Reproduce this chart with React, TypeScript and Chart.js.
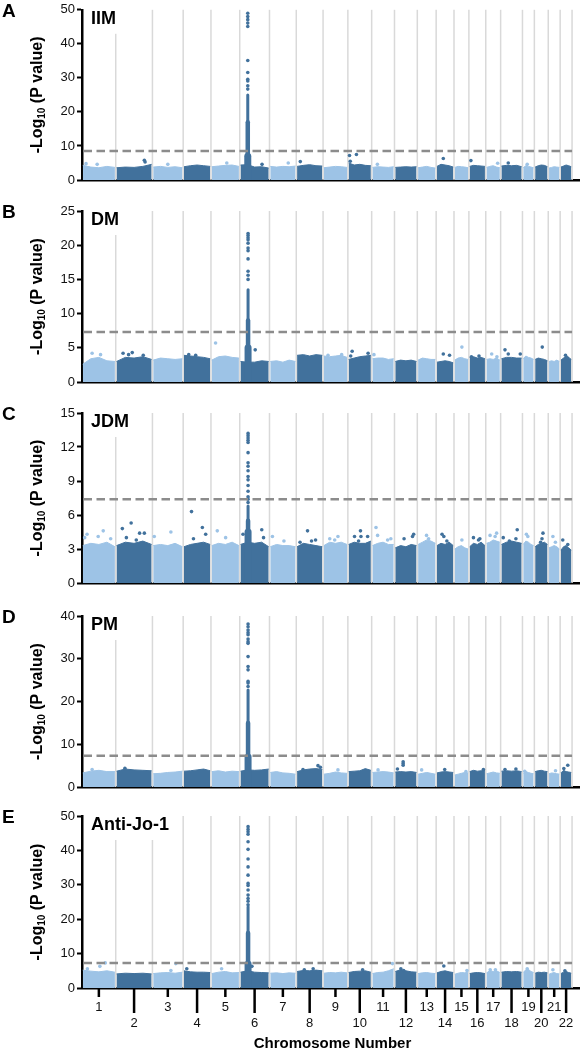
import React, { useEffect, useRef } from "react";
import { Chart, registerables } from "chart.js";

Chart.register(...registerables);

// ---------- shared axis data ----------
const chromosomes = ["1","2","3","4","5","6","7","8","9","10","11","12","13","14","15","16","17","18","19","20","21","22"];
// relative span of each chromosome on the genome axis (read from separators)
const chrSpan = [34, 37, 31, 28, 29, 30, 27, 27, 25, 24, 23, 23, 19, 18, 15, 17, 15, 22, 12, 14, 12, 12];

// ---------- Panel A: IIM ----------
const iimThreshold = 8.5;
const iimBand = [
  [4.3, 3.8, 3.6, 4.0, 3.7], [3.6, 3.8, 3.7, 4.0, 4.6], [3.8, 4.0, 3.7, 3.9, 3.6], [3.9, 4.2, 4.4, 4.2, 4.0],
  [3.9, 4.1, 4.3, 4.4, 4.0], [4.4, 4.5, 3.8, 3.9, 3.5], [4.0, 3.8, 4.0, 3.9, 4.1], [4.0, 4.3, 4.5, 4.2, 4.1],
  [3.6, 3.8, 4.0, 3.9, 3.7], [5.0, 4.4, 4.6, 4.3, 4.2], [3.7, 3.9, 3.8, 3.7, 3.9], [3.7, 3.8, 3.9, 3.8, 3.9],
  [3.6, 3.8, 4.0, 3.7, 3.5], [4.0, 4.6, 4.4, 4.2, 3.8], [3.7, 4.0, 3.9, 3.8, 3.6], [4.0, 4.3, 4.2, 4.1, 4.0],
  [3.7, 4.0, 4.2, 3.8, 3.6], [4.1, 4.3, 4.2, 4.3, 3.9], [3.6, 4.2, 4.0, 3.8, 3.6], [3.8, 4.2, 4.4, 4.3, 3.9],
  [3.5, 3.7, 3.9, 3.8, 3.7], [3.8, 4.1, 4.4, 4.2, 3.9],
];
const iimDots: [number, number, number][] = [
  [1, 0.12, 4.8], [1, 0.45, 4.6], [2, 0.78, 5.8], [2, 0.8, 5.3], [3, 0.5, 4.6], [5, 0.55, 5.0],
  [6, 0.75, 4.6], [7, 0.7, 5.0], [8, 0.15, 5.4], [10, 0.07, 7.2], [10, 0.36, 7.5], [10, 0.1, 5.5],
  [11, 0.25, 4.6], [14, 0.4, 6.3], [16, 0.12, 5.7], [17, 0.8, 4.9], [18, 0.35, 5.0], [19, 0.4, 4.6],
];
const iimPeakFrac = 0.27;
const iimColumn = [7, 17, 25];
const iimPeakDots = [26.7, 27.7, 29.1, 29.6, 31.6, 35.1, 45.1, 46.1, 47.1, 48.0, 49.0];

// ---------- Panel B: DM ----------
const dmThreshold = 7.3;
const dmBand = [
  [2.6, 3.4, 3.6, 3.1, 3.0], [3.0, 3.6, 3.5, 3.7, 3.3], [3.2, 3.5, 3.4, 3.3, 3.4], [3.9, 3.8, 3.7, 3.6, 3.4],
  [3.2, 3.7, 3.8, 3.6, 3.5], [3.0, 2.9, 2.9, 3.1, 3.0], [3.0, 3.1, 2.9, 3.2, 3.0], [3.9, 4.0, 3.8, 4.0, 3.9],
  [3.8, 3.7, 3.8, 3.9, 3.6], [3.3, 3.5, 3.7, 3.8, 3.9], [3.4, 3.5, 3.5, 3.3, 3.4], [3.0, 3.2, 3.1, 3.2, 3.0],
  [3.2, 3.5, 3.4, 3.3, 3.3], [2.9, 3.0, 3.1, 3.0, 2.8], [3.2, 3.5, 3.6, 3.4, 3.3], [3.6, 3.7, 3.5, 3.6, 3.4],
  [3.3, 3.4, 3.3, 3.5, 3.2], [3.4, 3.6, 3.6, 3.5, 3.5], [3.4, 3.8, 3.6, 3.5, 3.3], [3.3, 3.5, 3.4, 3.3, 3.1],
  [3.0, 3.1, 3.0, 3.2, 3.0], [3.2, 3.5, 3.8, 3.6, 3.3],
];
const dmDots: [number, number, number][] = [
  [1, 0.3, 4.2], [1, 0.55, 4.0], [2, 0.2, 4.2], [2, 0.35, 4.0], [2, 0.45, 4.3], [2, 0.75, 3.9],
  [4, 0.2, 4.0], [4, 0.45, 3.9], [5, 0.16, 5.7], [6, 0.52, 4.7], [9, 0.2, 3.9], [9, 0.75, 4.0],
  [10, 0.18, 4.5], [10, 0.12, 3.8], [10, 0.85, 4.2], [11, 0.1, 4.0], [14, 0.4, 4.1], [14, 0.75, 3.9],
  [15, 0.53, 5.1], [16, 0.15, 3.7], [16, 0.6, 3.8], [17, 0.4, 4.1], [17, 0.75, 3.7], [18, 0.2, 4.7],
  [18, 0.35, 4.1], [18, 0.9, 4.1], [20, 0.57, 5.1], [22, 0.45, 3.9], [22, 0.6, 3.5],
];
const dmPeakFrac = 0.28;
const dmColumn = [5, 9, 13.5];
const dmPeakDots = [15.0, 15.6, 16.2, 18.0, 19.2, 19.6, 20.3, 20.8, 21.1, 21.4, 21.7];

// ---------- Panel C: JDM ----------
const jdmThreshold = 7.4;
const jdmBand = [
  [3.3, 3.5, 3.4, 3.6, 3.2], [3.3, 3.6, 3.5, 3.7, 3.4], [3.3, 3.4, 3.3, 3.5, 3.2], [3.2, 3.4, 3.5, 3.6, 3.4],
  [3.3, 3.5, 3.4, 3.6, 3.3], [3.4, 3.6, 3.5, 3.6, 3.2], [3.2, 3.4, 3.3, 3.3, 3.2], [3.2, 3.5, 3.4, 3.3, 3.2],
  [3.3, 3.6, 3.5, 3.6, 3.4], [3.4, 3.6, 3.5, 3.5, 3.7], [3.3, 3.5, 3.6, 3.4, 3.4], [3.1, 3.3, 3.2, 3.4, 3.3],
  [3.4, 3.6, 3.8, 3.7, 3.5], [3.3, 3.5, 3.4, 3.6, 3.3], [3.0, 3.2, 3.3, 3.1, 3.0], [3.2, 3.5, 3.4, 3.6, 3.3],
  [3.5, 3.6, 3.8, 3.7, 3.6], [3.4, 3.6, 3.7, 3.6, 3.5], [3.4, 3.7, 3.6, 3.4, 3.3], [3.2, 3.4, 3.5, 3.6, 3.4],
  [3.1, 3.2, 3.3, 3.2, 3.0], [2.9, 3.2, 3.3, 3.1, 2.9],
];
const jdmDots: [number, number, number][] = [
  [1, 0.08, 4.0], [1, 0.15, 4.3], [1, 0.48, 4.1], [1, 0.63, 4.6], [1, 0.85, 3.9],
  [2, 0.18, 4.8], [2, 0.29, 4.0], [2, 0.42, 5.3], [2, 0.56, 3.8], [2, 0.65, 4.4], [2, 0.78, 4.4],
  [3, 0.06, 4.1], [3, 0.6, 4.5], [4, 0.3, 6.3], [4, 0.37, 3.9], [4, 0.69, 4.9], [4, 0.81, 4.3],
  [5, 0.22, 4.6], [5, 0.51, 4.0], [6, 0.11, 4.3], [6, 0.74, 4.7], [6, 0.8, 4.0], [7, 0.11, 4.1], [7, 0.54, 3.7],
  [8, 0.14, 3.6], [8, 0.42, 4.6], [8, 0.57, 3.7], [8, 0.72, 3.8], [9, 0.27, 3.9], [9, 0.47, 3.8], [9, 0.6, 4.1],
  [10, 0.28, 4.1], [10, 0.45, 3.7], [10, 0.53, 4.6], [10, 0.55, 4.1], [10, 0.83, 4.1],
  [11, 0.19, 4.9], [11, 0.26, 4.2], [11, 0.7, 3.8], [11, 0.84, 3.9], [12, 0.42, 3.9], [12, 0.79, 4.1], [12, 0.84, 4.3],
  [13, 0.49, 4.2], [13, 0.6, 3.9], [14, 0.33, 4.3], [14, 0.43, 4.1], [14, 0.6, 3.7], [15, 0.53, 3.8],
  [16, 0.27, 4.0], [16, 0.57, 3.8], [16, 0.65, 3.9], [17, 0.29, 4.2], [17, 0.63, 4.1], [17, 0.73, 4.4],
  [18, 0.12, 4.0], [18, 0.4, 3.7], [18, 0.7, 3.9], [18, 0.76, 4.7], [19, 0.33, 4.3], [19, 0.45, 4.1],
  [20, 0.45, 3.6], [20, 0.55, 3.9], [20, 0.62, 4.4], [21, 0.39, 4.1], [21, 0.6, 3.6], [22, 0.22, 3.8], [22, 0.64, 3.4],
];
const jdmPeakFrac = 0.28;
const jdmColumn = [4.5, 5.5, 6.8];
const jdmPeakDots = [7.1, 7.4, 7.6, 8.1, 8.6, 9.1, 9.4, 9.9, 10.3, 10.6, 11.5, 12.4, 12.6, 12.8, 13.0, 13.2];

// ---------- Panel D: PM ----------
const pmThreshold = 7.3;
const pmBand = [
  [3.3, 3.7, 3.9, 3.6, 3.6], [3.7, 4.2, 4.0, 3.9, 3.8], [3.1, 3.2, 3.4, 3.5, 3.7], [3.7, 3.8, 4.0, 4.2, 3.8],
  [3.6, 3.8, 3.5, 3.7, 3.6], [3.7, 4.0, 3.9, 4.0, 4.2], [3.4, 3.6, 3.3, 3.2, 3.0], [3.6, 4.0, 4.2, 4.3, 4.1],
  [3.0, 3.2, 3.5, 3.3, 3.2], [3.6, 3.7, 3.8, 4.3, 3.9], [3.4, 3.5, 3.6, 3.5, 3.3], [3.5, 3.6, 3.5, 3.6, 3.4],
  [3.0, 3.2, 3.4, 3.2, 3.0], [3.3, 3.5, 3.6, 3.5, 3.4], [2.8, 3.0, 3.2, 3.4, 3.3], [3.6, 3.9, 3.7, 3.8, 3.9],
  [3.1, 3.3, 3.5, 3.3, 3.2], [3.7, 3.8, 3.7, 3.8, 3.6], [3.2, 3.6, 3.4, 3.2, 3.1], [3.6, 3.8, 3.9, 3.7, 3.6],
  [3.1, 3.3, 3.2, 3.1, 3.0], [3.3, 3.9, 3.6, 3.5, 3.4],
];
const pmDots: [number, number, number][] = [
  [1, 0.3, 4.1], [2, 0.25, 4.4], [8, 0.25, 4.1], [8, 0.81, 5.0], [8, 0.9, 4.6], [9, 0.6, 4.0],
  [11, 0.28, 4.0], [12, 0.13, 4.2], [12, 0.38, 5.9], [12, 0.38, 5.5], [12, 0.38, 5.1], [13, 0.23, 4.0],
  [14, 0.48, 4.1], [15, 0.8, 3.6], [16, 0.86, 4.1], [18, 0.2, 4.1], [18, 0.7, 4.2], [19, 0.19, 3.7],
  [21, 0.61, 3.8], [22, 0.31, 4.3], [22, 0.64, 5.1],
];
const pmPeakFrac = 0.28;
const pmColumn = [7, 15, 22.7];
const pmPeakDots = [23.5, 24.3, 24.7, 27.4, 28.2, 30.5, 33.6, 34.0, 34.6, 35.6, 36.1, 36.7, 37.5, 38.1];

// ---------- Panel E: Anti-Jo-1 ----------
const jo1Threshold = 7.3;
const jo1Band = [
  [5.2, 4.9, 4.7, 5.0, 4.6], [4.1, 4.3, 4.2, 4.3, 4.1], [4.2, 4.4, 4.5, 4.3, 4.6], [5.0, 4.7, 4.6, 4.6, 4.5],
  [4.2, 4.6, 4.8, 4.4, 4.5], [4.6, 5.0, 4.6, 4.5, 4.4], [4.3, 4.4, 4.2, 4.4, 4.3], [4.8, 5.1, 5.0, 5.2, 5.0],
  [4.3, 4.5, 4.4, 4.6, 4.4], [4.5, 4.8, 4.9, 5.0, 4.6], [4.2, 4.5, 4.6, 5.0, 5.6], [4.8, 5.3, 5.0, 4.7, 4.6],
  [4.2, 4.4, 4.5, 4.3, 4.2], [4.4, 4.8, 5.0, 4.7, 4.5], [4.0, 4.3, 4.5, 4.4, 4.6], [4.2, 4.4, 4.5, 4.4, 4.2],
  [4.4, 5.0, 4.8, 5.0, 4.5], [4.6, 4.8, 4.7, 4.8, 4.6], [4.5, 5.3, 5.4, 4.8, 4.5], [4.3, 4.6, 4.5, 4.6, 4.4],
  [4.0, 4.3, 4.5, 4.2, 4.1], [4.2, 4.6, 4.8, 4.5, 4.3],
];
const jo1Dots: [number, number, number][] = [
  [1, 0.16, 5.6], [1, 0.53, 6.3], [1, 0.69, 7.3], [3, 0.6, 5.1], [3, 0.76, 7.1], [4, 0.13, 5.6],
  [5, 0.37, 5.6], [6, 0.41, 6.3], [8, 0.3, 5.3], [8, 0.63, 5.6], [10, 0.62, 5.3], [11, 0.91, 7.1],
  [12, 0.28, 5.6], [12, 0.4, 5.1], [14, 0.43, 6.4], [15, 0.87, 5.1], [17, 0.3, 5.3], [17, 0.65, 5.3],
  [19, 0.4, 5.6], [21, 0.39, 5.3], [22, 0.4, 5.0],
];
const jo1PeakFrac = 0.28;
const jo1Column = [7, 16, 23.6];
const jo1PeakDots = [24.2, 25.2, 26.0, 27.0, 28.5, 29.8, 30.4, 32.8, 35.2, 37.5, 40.3, 42.5, 44.7, 45.4, 46.1, 46.9];

// ---------- assembly ----------
const LIGHT = "#9DC3E6";
const DARK = "#41719C";
const FONT = "'Liberation Sans', Arial, Helvetica, sans-serif";

const panels = [
  { letter: "A", title: "IIM", yMax: 50, yStep: 10, threshold: iimThreshold, band: iimBand, dots: iimDots, peakFrac: iimPeakFrac, column: iimColumn, peakDots: iimPeakDots },
  { letter: "B", title: "DM", yMax: 25, yStep: 5, threshold: dmThreshold, band: dmBand, dots: dmDots, peakFrac: dmPeakFrac, column: dmColumn, peakDots: dmPeakDots },
  { letter: "C", title: "JDM", yMax: 15, yStep: 3, threshold: jdmThreshold, band: jdmBand, dots: jdmDots, peakFrac: jdmPeakFrac, column: jdmColumn, peakDots: jdmPeakDots },
  { letter: "D", title: "PM", yMax: 40, yStep: 10, threshold: pmThreshold, band: pmBand, dots: pmDots, peakFrac: pmPeakFrac, column: pmColumn, peakDots: pmPeakDots },
  { letter: "E", title: "Anti-Jo-1", yMax: 50, yStep: 10, threshold: jo1Threshold, band: jo1Band, dots: jo1Dots, peakFrac: jo1PeakFrac, column: jo1Column, peakDots: jo1PeakDots },
];

const frames = [
  { top: 0, height: 200, areaTop: 9, areaBottom: 180 },
  { top: 200, height: 200, areaTop: 11, areaBottom: 182 },
  { top: 400, height: 200, areaTop: 13, areaBottom: 183 },
  { top: 600, height: 200, areaTop: 16, areaBottom: 187 },
  { top: 800, height: 250, areaTop: 16, areaBottom: 188 },
];

const offsets: number[] = [];
chrSpan.forEach((s, i) => offsets.push(i === 0 ? 0 : offsets[i - 1] + chrSpan[i - 1]));
const genomeEnd = offsets[offsets.length - 1] + chrSpan[chrSpan.length - 1];
const axisEnd = genomeEnd + 7;
const chrColor = (i: number) => (i % 2 === 0 ? LIGHT : DARK);

function buildConfig(panel: any, frame: any, showXAxis: boolean): any {
  const datasets: any[] = [];
  const peakX = offsets[5] + chrSpan[5] * panel.peakFrac;

  // outlier dots (drawn on top)
  datasets.push({
    data: panel.dots.map(([c, f, v]: number[]) => ({ x: offsets[c - 1] + chrSpan[c - 1] * f, y: v })),
    showLine: false,
    pointRadius: 1.8,
    pointBorderWidth: 0,
    pointBackgroundColor: panel.dots.map(([c]: number[]) => chrColor(c - 1)),
    fill: false,
  });
  datasets.push({
    data: panel.peakDots.map((v: number) => ({ x: peakX, y: v })),
    showLine: false,
    pointRadius: 1.8,
    pointBorderWidth: 0,
    pointBackgroundColor: DARK,
    fill: false,
  });
  // dense column of the chr6 peak
  const tierWidths = [7, 4.5, 3];
  panel.column.forEach((top: number, t: number) => {
    datasets.push({
      data: [{ x: peakX, y: 0 }, { x: peakX, y: top }],
      borderColor: DARK,
      borderWidth: tierWidths[t],
      borderCapStyle: "round",
      pointRadius: 0,
      fill: false,
    });
  });
  // dense bands per chromosome
  panel.band.forEach((heights: number[], i: number) => {
    const start = offsets[i] + 0.8;
    const w = chrSpan[i] - 1.6;
    datasets.push({
      data: heights.map((h, k) => ({ x: start + (w * k) / (heights.length - 1), y: h })),
      borderColor: chrColor(i),
      backgroundColor: chrColor(i),
      borderWidth: 1,
      pointRadius: 0,
      tension: 0,
      fill: "origin",
    });
  });

  const decor = {
    id: "decor",
    beforeDatasetsDraw(chart: any) {
      const { ctx, chartArea, scales } = chart;
      const x = scales.x;
      ctx.save();
      ctx.strokeStyle = "#d9d9d9";
      ctx.lineWidth = 1.5;
      offsets.forEach((o, i) => {
        const px = x.getPixelForValue(o + chrSpan[i]);
        ctx.beginPath();
        ctx.moveTo(px, chartArea.top);
        ctx.lineTo(px, chartArea.bottom);
        ctx.stroke();
      });
      ctx.restore();
    },
    afterDatasetsDraw(chart: any) {
      const { ctx, chartArea, scales } = chart;
      const x = scales.x;
      const y = scales.y;
      // threshold line
      ctx.save();
      ctx.strokeStyle = "#8c8c8c";
      ctx.lineWidth = 2.5;
      ctx.setLineDash([8.5, 4.5]);
      const ty = y.getPixelForValue(panel.threshold);
      ctx.beginPath();
      ctx.moveTo(chartArea.left + 1.5, ty);
      ctx.lineTo(x.getPixelForValue(genomeEnd), ty);
      ctx.stroke();
      ctx.restore();
      // panel title with white box
      ctx.save();
      ctx.font = `bold 18px ${FONT}`;
      const tw = ctx.measureText(panel.title).width;
      const tx = chartArea.left + 9;
      ctx.fillStyle = "#ffffff";
      ctx.fillRect(chartArea.left + 3, chartArea.top - 2, tw + 12, 26);
      ctx.fillStyle = "#000";
      ctx.textBaseline = "middle";
      ctx.textAlign = "left";
      ctx.fillText(panel.title, tx, chartArea.top + 9);
      ctx.restore();
    },
    afterDraw(chart: any) {
      const { ctx, chartArea, scales } = chart;
      const x = scales.x;
      // panel letter
      ctx.save();
      ctx.fillStyle = "#000";
      ctx.font = `bold 19px ${FONT}`;
      ctx.textBaseline = "middle";
      ctx.textAlign = "left";
      ctx.fillText(panel.letter, 2, chartArea.top + 1.5);
      ctx.restore();
      // y axis title with subscript
      ctx.save();
      const cy = (chartArea.top + chartArea.bottom) / 2;
      ctx.translate(36, cy);
      ctx.rotate(-Math.PI / 2);
      ctx.fillStyle = "#000";
      ctx.textBaseline = "alphabetic";
      ctx.textAlign = "left";
      const big = `bold 16px ${FONT}`;
      const small = `bold 10px ${FONT}`;
      ctx.font = big;
      const w1 = ctx.measureText("-Log").width;
      const w3 = ctx.measureText(" (P value)").width;
      ctx.font = small;
      const w2 = ctx.measureText("10").width;
      let sx = -(w1 + w2 + w3) / 2;
      ctx.font = big;
      ctx.fillText("-Log", sx, 6);
      sx += w1;
      ctx.font = small;
      ctx.fillText("10", sx, 9);
      sx += w2;
      ctx.font = big;
      ctx.fillText(" (P value)", sx, 6);
      ctx.restore();

      if (showXAxis) {
        ctx.save();
        const y0 = chartArea.bottom;
        ctx.strokeStyle = "#000";
        ctx.lineWidth = 2.5;
        ctx.fillStyle = "#111";
        ctx.font = `13px ${FONT}`;
        ctx.textAlign = "center";
        ctx.textBaseline = "middle";
        chromosomes.forEach((label, i) => {
          const px = x.getPixelForValue(offsets[i] + chrSpan[i] / 2);
          const odd = i % 2 === 0;
          ctx.beginPath();
          ctx.moveTo(px, y0);
          ctx.lineTo(px, y0 + (odd ? 9 : 25));
          ctx.stroke();
          ctx.fillText(label, px, y0 + (odd ? 19.5 : 35));
        });
        ctx.fillStyle = "#000";
        ctx.font = `bold 15px ${FONT}`;
        ctx.fillText("Chromosome Number", (chartArea.left + chartArea.right) / 2 + 2, y0 + 56);
        ctx.restore();
      }
    },
  };

  return {
    type: "line",
    data: { datasets },
    plugins: [decor],
    options: {
      animation: false,
      responsive: false,
      devicePixelRatio: 1,
      events: [],
      layout: { padding: { top: frame.areaTop, left: 0, right: 0, bottom: 0 } },
      plugins: { legend: { display: false }, tooltip: { enabled: false }, title: { display: false } },
      scales: {
        x: {
          type: "linear",
          min: 0,
          max: axisEnd,
          ticks: { display: false },
          grid: { display: false },
          border: { display: true, width: 2.5, color: "#000" },
          afterFit: (s: any) => {
            s.height = frame.height - frame.areaBottom;
          },
        },
        y: {
          type: "linear",
          min: 0,
          max: panel.yMax,
          ticks: { stepSize: panel.yStep, color: "#111", font: { size: 13, family: FONT }, padding: 2 },
          grid: { drawOnChartArea: false, drawTicks: true, tickLength: 5, tickWidth: 2, tickColor: "#000" },
          border: { display: true, width: 2.5, color: "#000" },
          afterFit: (s: any) => {
            s.width = 82;
          },
        },
      },
    },
  };
}

function ManhattanPanel({ panel, frame, showXAxis }: { panel: any; frame: any; showXAxis: boolean }) {
  const ref = useRef<HTMLCanvasElement | null>(null);
  useEffect(() => {
    if (!ref.current) return;
    const chart = new Chart(ref.current, buildConfig(panel, frame, showXAxis));
    return () => chart.destroy();
  }, [panel, frame, showXAxis]);
  return (
    <canvas
      ref={ref}
      width={583}
      height={frame.height}
      style={{ position: "absolute", left: 0, top: frame.top, width: 583, height: frame.height, display: "block" }}
    />
  );
}

export default function App() {
  return (
    <div style={{ position: "absolute", left: 0, top: 0, width: 583, height: 1050, background: "#fff" }}>
      {panels.map((p, i) => (
        <ManhattanPanel key={p.letter} panel={p} frame={frames[i]} showXAxis={i === panels.length - 1} />
      ))}
    </div>
  );
}
